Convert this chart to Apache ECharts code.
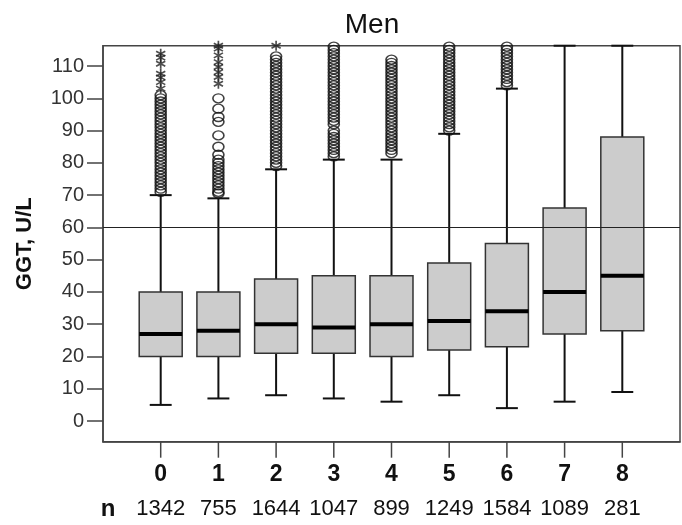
<!DOCTYPE html>
<html>
<head>
<meta charset="utf-8">
<script src="https://cdn.jsdelivr.net/npm/echarts@6/dist/echarts.min.js"></script>
<style>
  html, body { margin: 0; padding: 0; background: #fff; }
  #chart { width: 682px; height: 525px; }
</style>
</head>
<body>
<div id="chart"></div>
<script>
// groups on the x axis and their sample sizes
var categories = ['0', '1', '2', '3', '4', '5', '6', '7', '8'];
var counts = [1342, 755, 1644, 1047, 899, 1249, 1584, 1089, 281];

// box statistics per group (GGT, U/L)
var lowWhisker = [5, 7, 8, 7, 6, 8, 4, 6, 9];
var q1 = [20, 20, 21, 21, 20, 22, 23, 27, 28];
var median = [27, 28, 30, 29, 30, 31, 34, 40, 45];
var q3 = [40, 40, 44, 45, 45, 49, 55, 66, 88];
var highWhisker = [70, 69, 78, 81, 81, 89, 103, 116.3, 116.3];

// outliers (circles) per group
var outliers = [
  [71, 72, 73, 74, 75, 76, 77, 78, 79, 80, 81, 82, 83, 84, 85, 86, 87, 88, 89, 90, 91, 92, 93, 94, 95, 96, 97, 98, 99, 100, 101],
  [70.5, 71, 72, 73, 74, 75, 76, 77, 78, 79, 80, 81, 82.5, 85, 88.5, 92.7, 94.2, 96.8, 100],
  [79, 80, 81, 82, 83, 84, 85, 86, 87, 88, 89, 90, 91, 92, 93, 94, 95, 96, 97, 98, 99, 100, 101, 102, 103, 104, 105, 106, 107, 108, 109, 110, 111, 112, 113],
  [82, 83, 84, 85, 86, 87, 88, 89, 90, 92, 93, 94, 95, 96, 97, 98, 99, 100, 101, 102, 103, 104, 105, 106, 107, 108, 109, 110, 111, 112, 113, 114, 115, 116],
  [83, 84, 85, 86, 87, 88, 89, 90, 91, 92, 93, 94, 95, 96, 97, 98, 99, 100, 101, 102, 103, 104, 105, 106, 107, 108, 109, 110, 111, 112],
  [90, 91, 92, 93, 94, 95, 96, 97, 98, 99, 100, 101, 102, 103, 104, 105, 106, 107, 108, 109, 110, 111, 112, 113, 114, 115, 116],
  [104, 105, 106, 107, 108, 109, 110, 111, 112, 113, 114, 115, 116],
  [],
  []
];

// extreme values (asterisks) per group
var extremes = [
  [103, 105, 106.5, 107.6, 110.7, 112.6, 113.8],
  [104.5, 106.6, 108.1, 109.7, 111.2, 113.3, 115.4, 116.3],
  [116.3],
  [], [], [], [], [], []
];

var refLine = 60;
var yTicks = [0, 10, 20, 30, 40, 50, 60, 70, 80, 90, 100, 110];
var yMin = -6.4;
var yMax = 116.3;

// group positions on the x axis; the frame runs from -1 to 9
var xPos = categories.map(function (c, i) { return i; });

var boxData = categories.map(function (c, i) {
  return [i, lowWhisker[i], q1[i], median[i], q3[i], highWhisker[i]];
});

var circleData = [];
var starData = [];
outliers.forEach(function (arr, i) {
  arr.forEach(function (v) { circleData.push([i, v]); });
});
extremes.forEach(function (arr, i) {
  arr.forEach(function (v) { starData.push([i, v]); });
});

var asterisk = 'path://M-0.8,-5L0.8,-5L0.8,5L-0.8,5Z' +
  'M4.73,1.807L3.93,3.193L-4.73,-1.807L-3.93,-3.193Z' +
  'M-3.93,3.193L-4.73,1.807L3.93,-3.193L4.73,-1.807Z';

var chart = echarts.init(document.getElementById('chart'), null, { renderer: 'canvas' });

var font = '"Liberation Sans", Arial, sans-serif';

var option = {
  animation: false,
  title: {
    text: 'Men',
    left: 367,
    textAlign: 'center',
    top: 6,
    textStyle: { fontFamily: font, fontSize: 28, fontWeight: 'normal', color: '#111' }
  },
  grid: {
    left: 103, right: 2, top: 45.7, bottom: 83.3,
    show: true, borderColor: '#444', borderWidth: 1.5, backgroundColor: 'transparent'
  },
  xAxis: {
    type: 'value',
    min: -1,
    max: 9,
    axisLine: { show: true, onZero: false, lineStyle: { color: '#444', width: 1.5 } },
    axisTick: { show: false },
    // group number on the first line, sample size on the second
    axisLabel: {
      margin: 15,
      customValues: [-1].concat(xPos),
      showMinLabel: true,
      formatter: function (v) {
        if (v === -1) return '{g| }\n{nb|n}';
        return '{g|' + categories[v] + '}\n{n|' + counts[v] + '}';
      },
      rich: {
        g: { fontFamily: font, fontSize: 23, fontWeight: 'bold', color: '#111', lineHeight: 35 },
        n: { fontFamily: font, fontSize: 22, color: '#111', lineHeight: 35 },
        nb: { fontFamily: font, fontSize: 24, fontWeight: 'bold', color: '#111', lineHeight: 35, padding: [0, 0, 0, 10] }
      }
    },
    splitLine: { show: false }
  },
  yAxis: {
    type: 'value',
    min: yMin,
    max: yMax,
    name: 'GGT, U/L',
    nameLocation: 'middle',
    nameGap: 67,
    nameRotate: 90,
    nameTextStyle: { fontFamily: font, fontSize: 22, fontWeight: 'bold', color: '#111' },
    axisLine: { show: true, onZero: false, lineStyle: { color: '#444', width: 1.5 } },
    axisTick: { show: true, length: 16, customValues: yTicks, lineStyle: { color: '#444', width: 1.5 } },
    axisLabel: { margin: 19, customValues: yTicks, fontFamily: font, fontSize: 20, color: '#333' },
    splitLine: { show: false }
  },
  series: [
    {
      type: 'custom',
      data: boxData,
      renderItem: function (params, api) {
        var x = api.value(0);
        var lo = api.coord([x, api.value(1)]);
        var b1 = api.coord([x, api.value(2)]);
        var md = api.coord([x, api.value(3)]);
        var b3 = api.coord([x, api.value(4)]);
        var hi = api.coord([x, api.value(5)]);
        var bw = api.size([1, 0])[0];
        var half = bw * 0.3725;
        var cap = bw * 0.19;
        var cx = lo[0];
        var whisk = { stroke: '#111', lineWidth: 2 };
        return {
          type: 'group',
          children: [
            { type: 'line', shape: { x1: cx, y1: b1[1], x2: cx, y2: lo[1] }, style: whisk },
            { type: 'line', shape: { x1: cx, y1: b3[1], x2: cx, y2: hi[1] }, style: whisk },
            { type: 'line', shape: { x1: cx - cap, y1: lo[1], x2: cx + cap, y2: lo[1] }, style: whisk },
            { type: 'line', shape: { x1: cx - cap, y1: hi[1], x2: cx + cap, y2: hi[1] }, style: whisk },
            {
              type: 'rect',
              shape: { x: cx - half, y: b3[1], width: half * 2, height: b1[1] - b3[1] },
              style: { fill: '#cccccc', stroke: '#333', lineWidth: 1.5 }
            },
            { type: 'line', shape: { x1: cx - half, y1: md[1], x2: cx + half, y2: md[1] }, style: { stroke: '#000', lineWidth: 4 } }
          ]
        };
      }
    },
    {
      type: 'scatter',
      data: circleData,
      symbol: 'circle',
      symbolSize: [11, 9],
      clip: true,
      itemStyle: { color: 'transparent', borderColor: '#111', borderWidth: 1.5 },
      markLine: {
        silent: true,
        symbol: ['none', 'none'],
        label: { show: false },
        lineStyle: { color: '#222', width: 1.2, type: 'solid' },
        data: [{ yAxis: refLine }]
      }
    },
    {
      type: 'scatter',
      data: starData,
      symbol: asterisk,
      symbolSize: 10,
      clip: true,
      itemStyle: { color: '#222' }
    }
  ]
};

chart.setOption(option);

// x ticks below the frame, placed through the axis scale
var ticks = xPos.map(function (v) {
  var p = chart.convertToPixel({ gridIndex: 0 }, [v, yMin]);
  return {
    type: 'line',
    z: 100,
    shape: { x1: p[0], y1: p[1], x2: p[0], y2: p[1] + 16 },
    style: { stroke: '#444', lineWidth: 1.5 }
  };
});
chart.setOption({ graphic: ticks });
</script>
</body>
</html>
